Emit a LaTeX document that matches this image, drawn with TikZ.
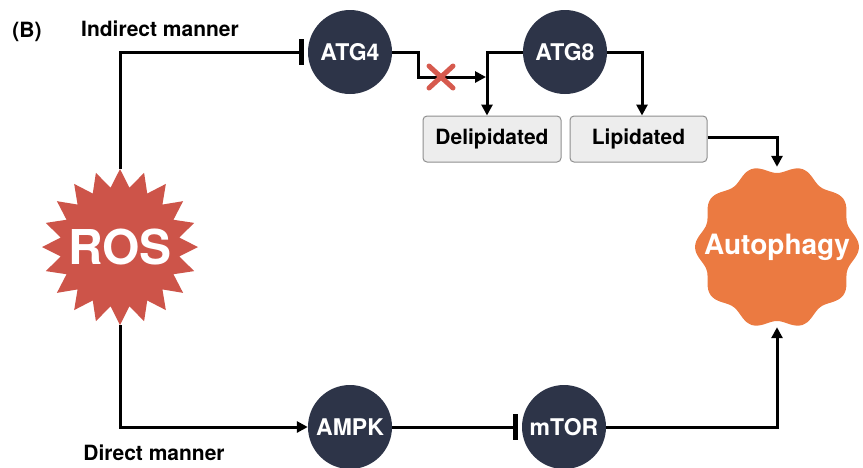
\documentclass[tikz,border=0pt]{standalone}
\usepackage{fontspec}
\setmainfont{TeX Gyre Heros}
\usetikzlibrary{arrows.meta,calc}
\definecolor{navy}{HTML}{2D3448}
\definecolor{rosred}{HTML}{CD5449}
\definecolor{autoorange}{HTML}{EB7A41}
\definecolor{boxfill}{HTML}{EDEDED}
\definecolor{boxline}{HTML}{8F8F8F}
\definecolor{xred}{HTML}{D65A4E}
\tikzset{
  prot/.style={circle, fill=navy, minimum size=84pt, inner sep=0pt, text=white,
    font=\bfseries\fontsize{23}{26}\selectfont},
  statebox/.style={rectangle, rounded corners=4pt, fill=boxfill, draw=boxline, line width=1pt,
    minimum width=137pt, minimum height=46pt, inner sep=0pt, font=\bfseries\fontsize{21}{24}\selectfont},
  lbl/.style={font=\bfseries\fontsize{21}{24}\selectfont, inner sep=0pt},
  arr/.style={line width=3pt, -{Triangle[length=11pt,width=11pt]}},
  inh/.style={line width=3pt, -{Bar[width=26pt,line width=4.5pt]}, shorten >=4pt},
}
\begin{document}
\begin{tikzpicture}[x=1pt,y=1pt]
\useasboundingbox (0,0) rectangle (863,-467);
% ROS starburst
\begin{scope}[shift={(120,-247)}]
\fill[rosred] (90:78) \foreach \i in {1,...,39} { -- ({90+9*\i}:{78-18*mod(\i,2)}) } -- cycle;
\end{scope}
\node[circle, minimum size=156pt, inner sep=0pt, text=white, font=\bfseries\fontsize{48}{50}\selectfont] (ros) at (120,-247) {ROS};
% Autophagy scallop
\begin{scope}[shift={(777,-247)}]
\fill[autoorange] plot[smooth cycle, domain=0:356, samples=90] (\x:{78+4*cos(10*\x)});
\end{scope}
\node[circle, minimum size=160pt, inner sep=0pt, text=white, font=\bfseries\fontsize{28}{30}\selectfont] (auto) at (777,-247) {Autophagy};
% proteins
\node[prot] (atg4) at (350,-52) {ATG4};
\node[prot] (atg8) at (565,-52) {ATG8};
\node[prot] (ampk) at (350,-427) {AMPK};
\node[prot] (mtor) at (564,-427) {mTOR};
% boxes
\node[statebox, minimum width=138pt] (delip) at (492,-139) {Delipidated};
\node[statebox] (lipid) at (638.5,-139) {Lipidated};
% labels
\node[lbl] (blabel) at (27,-32) {(B)};
\node[lbl] (indirect) at (160,-29) {Indirect manner};
\node[lbl] (direct) at (154,-453) {Direct manner};
% connectors
\coordinate (k1) at (418,-52);
\coordinate (k2) at (486,-77);
\draw[inh] (ros.north) |- (atg4.west);
\draw[arr] (atg4.east) -- (k1) |- (k2);
\draw[arr] (atg8.west) -| ($(delip.north)+(-5,0)$);
\draw[arr] (atg8.east) -| ($(lipid.north)+(3.5,0)$);
\draw[arr] ($(lipid.east)+(0,2)$) -| (auto.north);
\draw[arr] (ros.south) |- (ampk.west);
\draw[inh] (ampk.east) -- (mtor.west);
\draw[arr] (mtor.east) -| (auto.south);
% red X (blocked)
\coordinate (xc) at (441,-77);
\draw[xred, line width=5pt, line cap=round] ($(xc)+(-12,-11)$) -- ($(xc)+(12,11)$);
\draw[xred, line width=5pt, line cap=round] ($(xc)+(-12,11)$) -- ($(xc)+(12,-11)$);
\end{tikzpicture}
\end{document}
